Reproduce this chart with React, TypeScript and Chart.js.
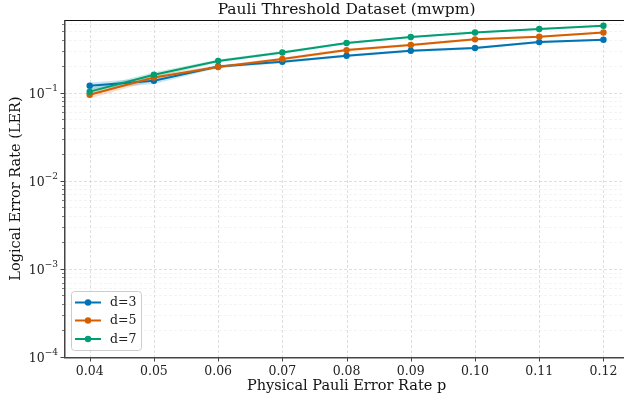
import React, { useEffect, useRef } from "react";
import { Chart, registerables } from "chart.js";

Chart.register(...registerables);

// ---------------- data ----------------
const pValues = [0.04, 0.05, 0.06, 0.07, 0.08, 0.09, 0.1, 0.11, 0.12];
const seriesLabels = ["d=3", "d=5", "d=7"];
const d3 = [0.12, 0.137, 0.199, 0.225, 0.263, 0.3, 0.322, 0.376, 0.4];
const d3Err = [0.011, 0.011, 0.008, 0.008, 0.009, 0.01, 0.01, 0.011, 0.011];
const d5 = [0.095, 0.149, 0.196, 0.242, 0.305, 0.348, 0.404, 0.433, 0.484];
const d5Err = [0.009, 0.011, 0.008, 0.009, 0.01, 0.011, 0.011, 0.012, 0.012];
const d7 = [0.103, 0.16, 0.229, 0.287, 0.367, 0.43, 0.484, 0.53, 0.577];
const d7Err = [0.009, 0.011, 0.009, 0.01, 0.011, 0.012, 0.012, 0.013, 0.013];
const seriesColors = ["#0173B2", "#D55E00", "#029E73"];
const seriesFills = ["rgba(1,115,178,0.2)", "rgba(213,94,0,0.2)", "rgba(2,158,115,0.2)"];
const yMajorExponents = [-4, -3, -2, -1];
const xTickLabels = ["0.04", "0.05", "0.06", "0.07", "0.08", "0.09", "0.10", "0.11", "0.12"];
const titleText = "Pauli Threshold Dataset (mwpm)";
const xTitle = "Physical Pauli Error Rate p";
const yTitle = "Logical Error Rate (LER)";

const X_MIN = 0.036;
const X_MAX = 0.1232;
const Y_MIN = 1e-4;
const Y_MAX = 0.67;
const FONT = "'DejaVu Serif', serif";

export default function App() {
  const ref = useRef<HTMLCanvasElement>(null);

  useEffect(() => {
    document.body.style.margin = "0";
    const canvas = ref.current!;
    const all = [d3, d5, d7];
    const errs = [d3Err, d5Err, d7Err];

    const datasets: any[] = [];
    all.forEach((vals, i) => {
      datasets.push({
        label: seriesLabels[i] + " hi",
        data: pValues.map((p, j) => ({ x: p, y: vals[j] + errs[i][j] })),
        borderWidth: 0,
        pointRadius: 0,
        backgroundColor: seriesFills[i],
        fill: "+1",
        order: 10,
      });
      datasets.push({
        label: seriesLabels[i] + " lo",
        data: pValues.map((p, j) => ({ x: p, y: vals[j] - errs[i][j] })),
        borderWidth: 0,
        pointRadius: 0,
        fill: false,
        order: 10,
      });
    });
    all.forEach((vals, i) => {
      datasets.push({
        label: seriesLabels[i],
        data: pValues.map((p, j) => ({ x: p, y: vals[j] })),
        borderColor: seriesColors[i],
        backgroundColor: seriesColors[i],
        pointBackgroundColor: seriesColors[i],
        pointBorderWidth: 0,
        pointRadius: 3.2,
        borderWidth: 2,
        fill: false,
        order: 3 - i,
      });
    });

    const yAllTicks: { v: number; major: boolean }[] = [];
    for (let k = -4; k <= 0; k++) {
      for (let m = 1; m <= 9; m++) {
        const v = m * Math.pow(10, k);
        if (v >= Y_MIN - 1e-12 && v <= Y_MAX) yAllTicks.push({ v, major: m === 1 });
      }
    }

    const decor = {
      id: "decor",
      beforeDatasetsDraw(chart: any) {
        const { ctx, chartArea: a, scales } = chart;
        const xs = scales.x;
        const ys = scales.y;
        ctx.save();
        ctx.beginPath();
        ctx.rect(a.left, a.top, a.right - a.left, a.bottom - a.top);
        ctx.clip();
        ctx.setLineDash([3, 2]);
        yAllTicks.forEach((t) => {
          const y = Math.round(ys.getPixelForValue(t.v)) + 0.5;
          ctx.strokeStyle = t.major ? "rgba(190,190,190,0.55)" : "rgba(210,210,210,0.4)";
          ctx.lineWidth = t.major ? 0.9 : 0.6;
          ctx.beginPath();
          ctx.moveTo(a.left, y);
          ctx.lineTo(a.right, y);
          ctx.stroke();
        });
        ctx.strokeStyle = "rgba(190,190,190,0.55)";
        ctx.lineWidth = 0.9;
        pValues.forEach((p) => {
          const x = Math.round(xs.getPixelForValue(p)) + 0.5;
          ctx.beginPath();
          ctx.moveTo(x, a.top);
          ctx.lineTo(x, a.bottom);
          ctx.stroke();
        });
        ctx.restore();
      },
      afterDatasetsDraw(chart: any) {
        const { ctx, chartArea: a, scales } = chart;
        const xs = scales.x;
        const ys = scales.y;
        ctx.save();
        ctx.setLineDash([]);
        // spines
        ctx.strokeStyle = "#111";
        ctx.lineWidth = 1;
        ctx.beginPath();
        ctx.moveTo(a.left, a.top + 0.5);
        ctx.lineTo(a.right, a.top + 0.5);
        ctx.stroke();
        ctx.strokeStyle = "#444";
        ctx.lineWidth = 1.5;
        ctx.beginPath();
        ctx.moveTo(a.left + 0.75, a.top);
        ctx.lineTo(a.left + 0.75, a.bottom + 0.75);
        ctx.lineTo(a.right, a.bottom + 0.75);
        ctx.stroke();
        // tick marks
        ctx.strokeStyle = "#444";
        ctx.lineWidth = 1;
        pValues.forEach((p) => {
          const x = Math.round(xs.getPixelForValue(p)) + 0.5;
          ctx.beginPath();
          ctx.moveTo(x, a.bottom + 1);
          ctx.lineTo(x, a.bottom + 4.5);
          ctx.stroke();
        });
        yAllTicks.forEach((t) => {
          const y = Math.round(ys.getPixelForValue(t.v)) + 0.5;
          ctx.lineWidth = t.major ? 1 : 0.7;
          ctx.beginPath();
          ctx.moveTo(a.left - (t.major ? 3.5 : 2), y);
          ctx.lineTo(a.left, y);
          ctx.stroke();
        });
        // y tick labels
        ctx.fillStyle = "#222";
        yMajorExponents.forEach((e) => {
          const y = ys.getPixelForValue(Math.pow(10, e));
          const expStr = String(e).replace("-", "\u2212");
          ctx.font = `9px ${FONT}`;
          const ew = ctx.measureText(expStr).width;
          ctx.font = `12.5px ${FONT}`;
          const bw = ctx.measureText("10").width;
          const right = a.left - 6;
          ctx.textBaseline = "middle";
          ctx.textAlign = "left";
          ctx.fillText("10", right - ew - bw, y + 1.5);
          ctx.font = `9px ${FONT}`;
          ctx.fillText(expStr, right - ew, y - 4);
        });
        // title & axis titles
        const cx = (a.left + xs.getPixelForValue(0.124)) / 2;
        ctx.fillStyle = "#111";
        ctx.textAlign = "center";
        ctx.textBaseline = "middle";
        ctx.font = `15.5px ${FONT}`;
        ctx.fillText(titleText, cx, 9.5);
        ctx.font = `14.5px ${FONT}`;
        ctx.fillText(xTitle, cx, 386);
        ctx.save();
        ctx.translate(16, (a.top + a.bottom) / 2);
        ctx.rotate(-Math.PI / 2);
        ctx.fillText(yTitle, 0, 0);
        ctx.restore();
        // legend
        const bx = 71.5, by = 291.5, bw2 = 70, bh = 59;
        ctx.fillStyle = "rgba(255,255,255,0.85)";
        ctx.strokeStyle = "#cccccc";
        ctx.lineWidth = 1;
        ctx.beginPath();
        (ctx as any).roundRect(bx, by, bw2, bh, 3);
        ctx.fill();
        ctx.stroke();
        const rows = [302.5, 320.5, 339];
        seriesLabels.forEach((lab, i) => {
          const ry = rows[i];
          ctx.strokeStyle = seriesColors[i];
          ctx.lineWidth = 2;
          ctx.beginPath();
          ctx.moveTo(75, ry);
          ctx.lineTo(101, ry);
          ctx.stroke();
          ctx.fillStyle = seriesColors[i];
          ctx.beginPath();
          ctx.arc(88, ry, 3.2, 0, Math.PI * 2);
          ctx.fill();
          ctx.fillStyle = "#222";
          ctx.font = `12.5px ${FONT}`;
          ctx.textAlign = "left";
          ctx.textBaseline = "middle";
          ctx.fillText(lab, 110, ry + 0.5);
        });
        ctx.restore();
      },
    };

    const chart = new Chart(canvas, {
      type: "line",
      data: { datasets },
      options: {
        animation: false,
        responsive: false,
        maintainAspectRatio: false,
        layout: { autoPadding: false, padding: { left: 0, right: 0, top: 20, bottom: 0 } },
        plugins: { legend: { display: false }, tooltip: { enabled: false }, title: { display: false } },
        scales: {
          x: {
            type: "linear",
            min: X_MIN,
            max: X_MAX,
            grid: { display: false },
            border: { display: false },
            afterBuildTicks: (s: any) => {
              s.ticks = pValues.map((v) => ({ value: v }));
            },
            afterFit: (s: any) => {
              s.height = 45;
              s.paddingRight = 0;
              s.paddingLeft = 0;
            },
            ticks: {
              autoSkip: false,
              maxRotation: 0,
              minRotation: 0,
              padding: -1,
              color: "#222",
              font: { family: FONT, size: 12.5 },
              callback: (v: any) => {
                const idx = pValues.findIndex((p) => Math.abs(p - Number(v)) < 1e-9);
                return idx >= 0 ? xTickLabels[idx] : "";
              },
            },
          },
          y: {
            type: "logarithmic",
            min: Y_MIN,
            max: Y_MAX,
            grid: { display: false },
            border: { display: false },
            ticks: { display: false },
            afterFit: (s: any) => {
              s.width = 64;
              s.paddingTop = 0;
              s.paddingBottom = 0;
            },
          },
        },
      } as any,
      plugins: [decor],
    });
    return () => chart.destroy();
  }, []);

  return (
    <canvas
      ref={ref}
      width={624}
      height={402}
      style={{ display: "block", width: 624, height: 402 }}
    />
  );
}
